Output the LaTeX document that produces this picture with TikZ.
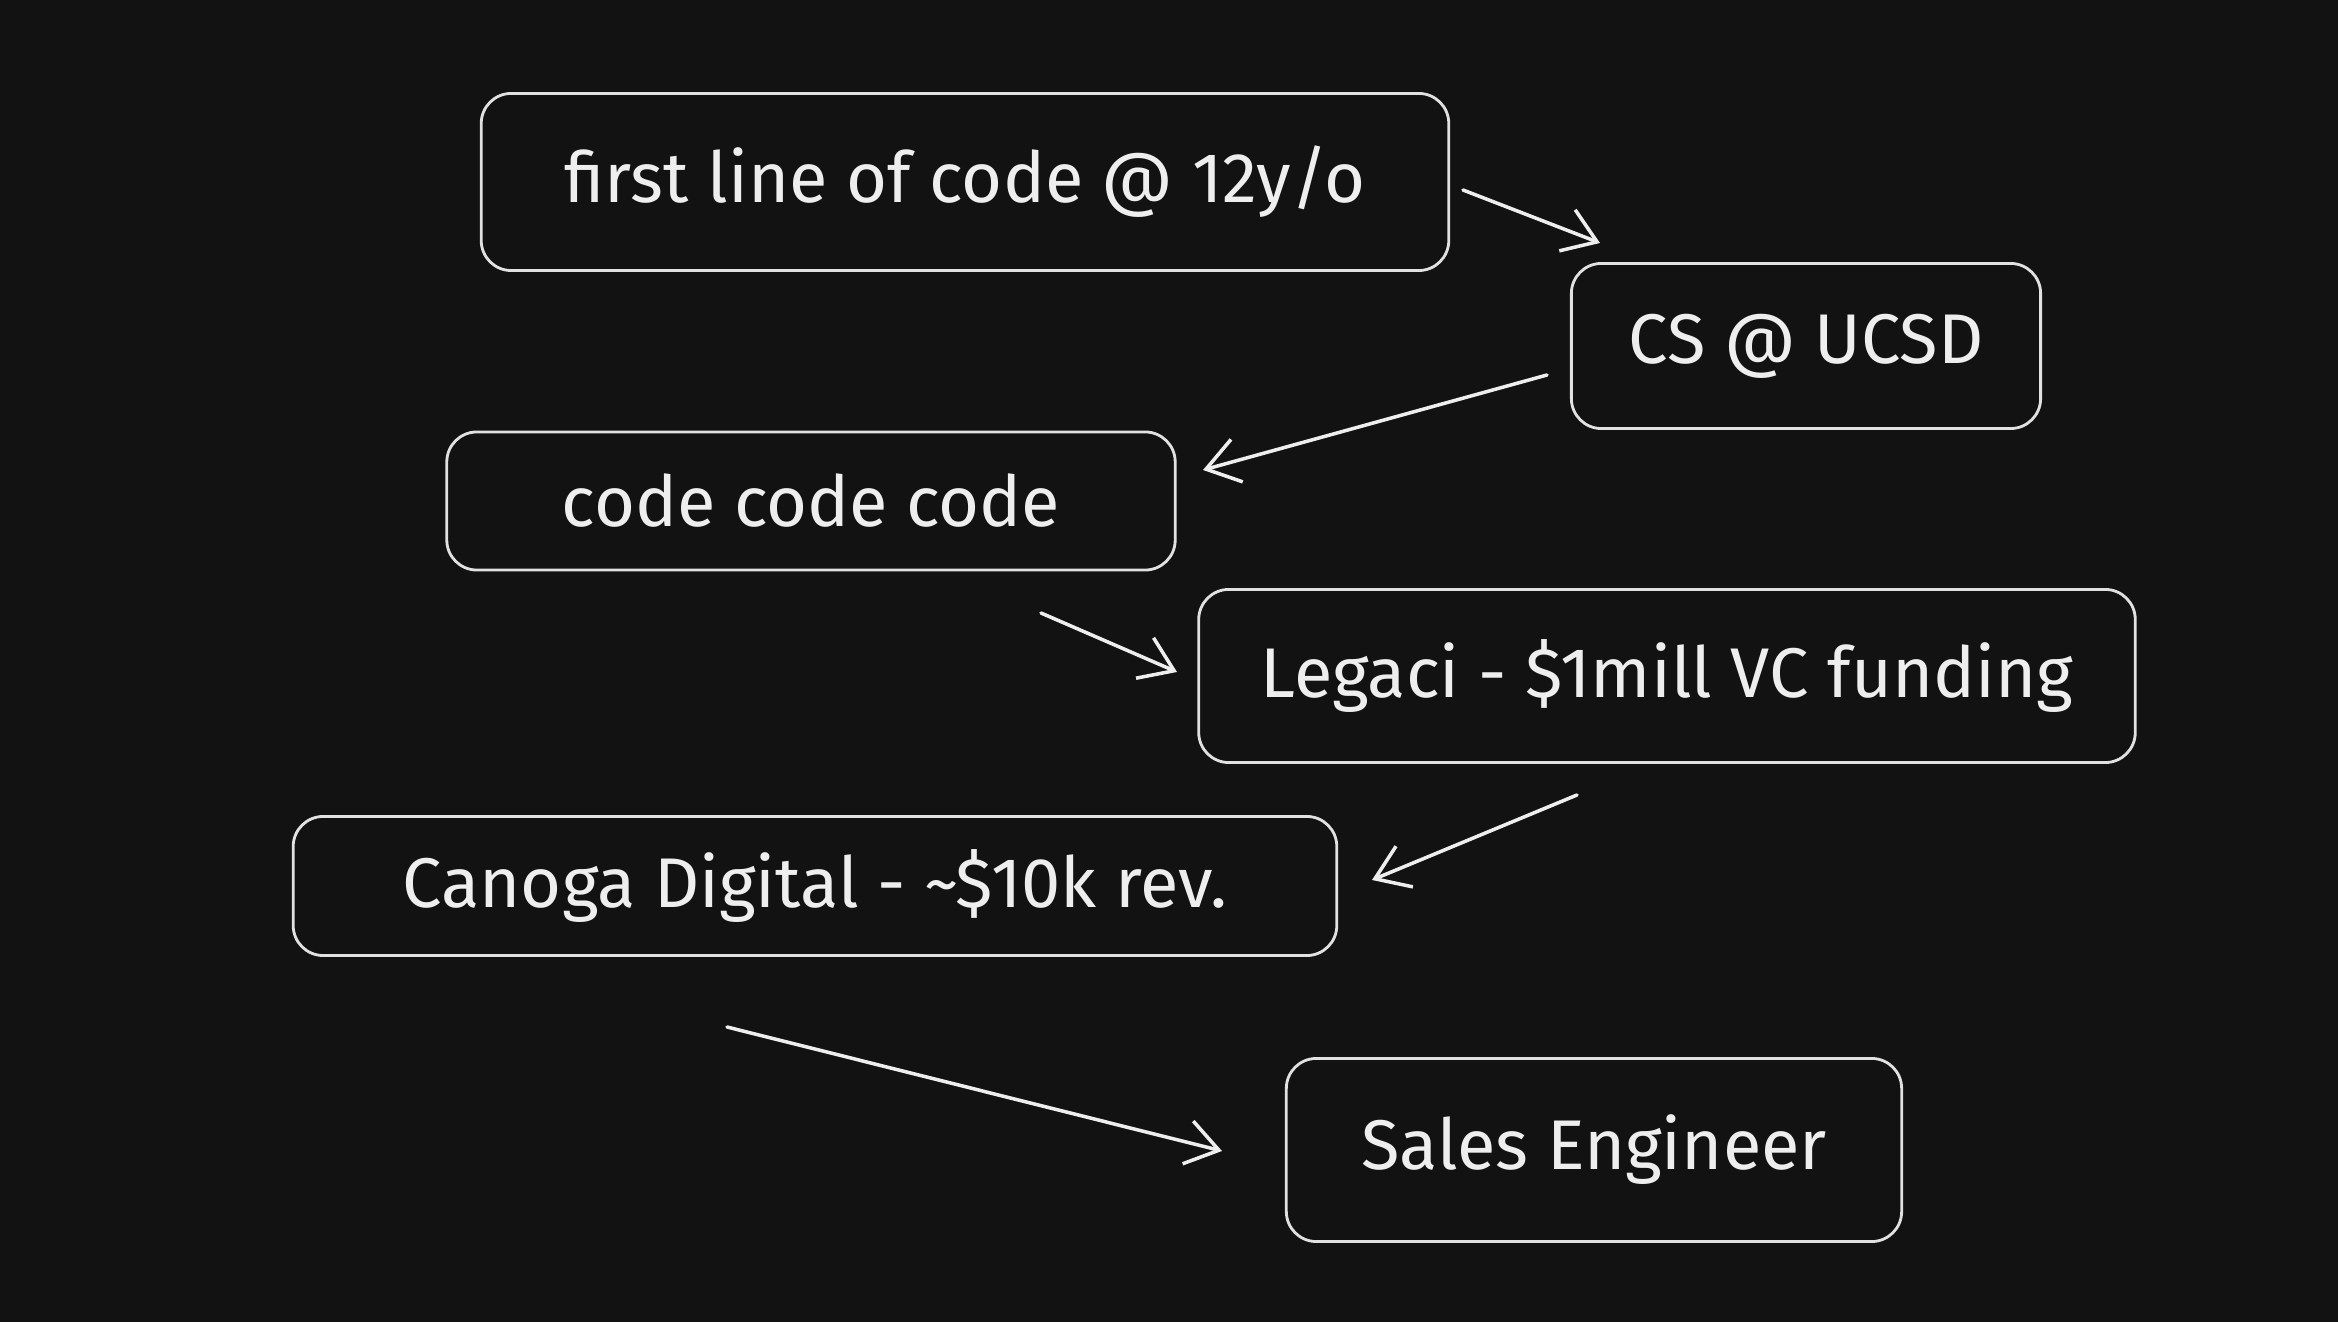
\documentclass[tikz,border=0pt]{standalone}
\usepackage{fontspec}
\setmainfont{Fira Sans}
\usetikzlibrary{arrows.meta}

\begin{document}
\begin{tikzpicture}[x=0.01cm, y=-0.01cm, line cap=round, line join=round,
  box/.style={draw=boxline, line width=0.8pt, rounded corners=0.3cm,
    text=ink, font=\fontsize{20}{24}\selectfont, inner sep=0pt},
  link/.style={draw=ink, line width=1pt,
    -{Straight Barb[length=3.2mm, width=4.4mm, line width=1pt]}}]
  \definecolor{bg}{RGB}{18,18,18}
  \definecolor{ink}{RGB}{238,238,238}
  \definecolor{boxline}{RGB}{225,225,225}

  \useasboundingbox[fill=bg] (0,0) rectangle (2338,1322);

  % boxes
  \node[box, minimum width=9.67cm, minimum height=1.77cm] (firstline) at (965,182) {first line of code @ 12y/o};
  \node[box, minimum width=4.69cm, minimum height=1.65cm] (ucsd) at (1806,346) {CS @ UCSD};
  \node[box, minimum width=7.28cm, minimum height=1.38cm] (codecode) at (811,501) {code code code};
  \node[box, minimum width=9.36cm, minimum height=1.73cm] (legaci) at (1667,676) {Legaci - \$1mill VC funding};
  \node[box, minimum width=10.43cm, minimum height=1.39cm] (canoga) at (815,886) {Canoga Digital - \textasciitilde\$10k rev.};
  \node[box, minimum width=6.15cm, minimum height=1.83cm] (sales) at (1594,1150) {Sales Engineer};

  % arrow ends
  \coordinate (a1s) at (1463,190);
  \coordinate (a1e) at (1600,243);
  \coordinate (a2s) at (1547,375);
  \coordinate (a2e) at (1203,470);
  \coordinate (a3s) at (1041,613);
  \coordinate (a3e) at (1177,672);
  \coordinate (a4s) at (1577,795);
  \coordinate (a4e) at (1372,880);
  \coordinate (a5s) at (727,1027);
  \coordinate (a5e) at (1222,1151);

  \draw[link] (a1s) -- (a1e);
  \draw[link] (a2s) -- (a2e);
  \draw[link] (a3s) -- (a3e);
  \draw[link] (a4s) -- (a4e);
  \draw[link] (a5s) -- (a5e);
\end{tikzpicture}
\end{document}
